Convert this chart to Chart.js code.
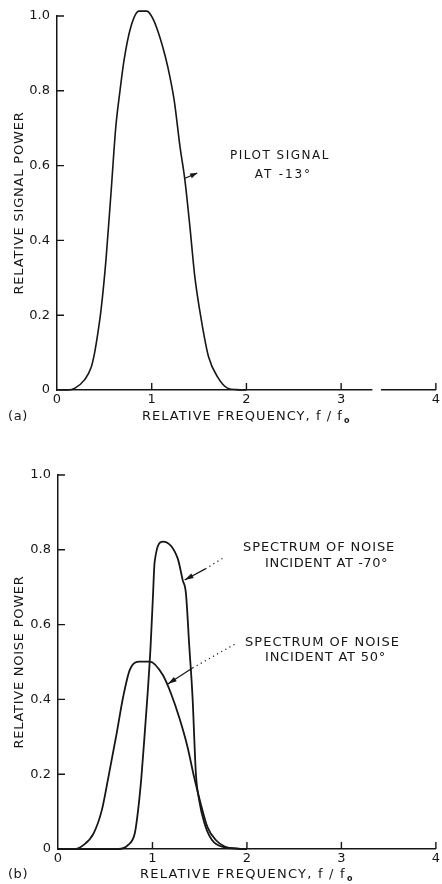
<!DOCTYPE html>
<html>
<head>
<meta charset="utf-8">
<script src="https://cdn.jsdelivr.net/npm/chart.js@4.4.0/dist/chart.umd.min.js"></script>
<style>
  body { margin: 0; background: #fff; }
  canvas { display: block; }
</style>
</head>
<body>
<canvas id="chartA" width="442" height="440"></canvas>
<canvas id="chartB" width="442" height="444"></canvas>
<script>
// (a) pilot signal at -13 deg
const pilotFreq  = [0, 0.12, 0.19, 0.29, 0.36, 0.396, 0.43, 0.465, 0.517, 0.57, 0.621, 0.665, 0.708, 0.78, 0.865, 0.948, 1.02, 1.09, 1.142, 1.19, 1.24, 1.299, 1.351, 1.403, 1.455, 1.524, 1.60, 1.70, 1.80, 1.9, 2.0];
const pilotPower = [0, 0, 0.005, 0.027, 0.06, 0.098, 0.15, 0.214, 0.348, 0.526, 0.704, 0.80, 0.882, 0.971, 1.013, 1.013, 0.989, 0.94, 0.893, 0.84, 0.77, 0.65, 0.56, 0.437, 0.303, 0.187, 0.089, 0.033, 0.005, 0.001, 0];

// (b) noise incident at 50 deg (broad) and -70 deg (narrow)
const noise50Freq  = [0, 0.17, 0.272, 0.377, 0.464, 0.534, 0.621, 0.69, 0.76, 0.866, 0.97, 1.11, 1.197, 1.285, 1.37, 1.44, 1.51, 1.58, 1.67, 1.77, 1.9, 2.0];
const noise50Power = [0, 0, 0.011, 0.042, 0.104, 0.193, 0.309, 0.407, 0.479, 0.501, 0.501, 0.465, 0.415, 0.35, 0.274, 0.193, 0.122, 0.06, 0.024, 0.006, 0.001, 0];
const noise70Freq  = [0, 0.64, 0.743, 0.813, 0.848, 0.883, 0.918, 0.95, 0.98, 1.005, 1.023, 1.11, 1.267, 1.32, 1.354, 1.39, 1.424, 1.46, 1.494, 1.55, 1.63, 1.756, 1.9, 2.0];
const noise70Power = [0, 0, 0.011, 0.042, 0.104, 0.193, 0.309, 0.42, 0.541, 0.675, 0.768, 0.822, 0.777, 0.719, 0.684, 0.541, 0.407, 0.2, 0.131, 0.069, 0.024, 0.005, 0.001, 0];

const freqTicks = [0, 1, 2, 3, 4];
const powerTicks = [0, 0.2, 0.4, 0.6, 0.8, 1.0];
const powerTickLabels = ['0', '0.2', '0.4', '0.6', '0.8', '1.0'];

const ink = '#161616';
const face = '"DejaVu Sans", sans-serif';

const toPoints = (xs, ys) => xs.map((x, i) => ({ x, y: ys[i] }));

// stretch text to a given width with letter spacing
function spaced(ctx, text, cx, cy, w) {
  ctx.letterSpacing = '0px';
  const n = [...text].length;
  const raw = ctx.measureText(text).width;
  const sp = Math.max(0, (w - raw) / n);
  ctx.letterSpacing = sp + 'px';
  ctx.textAlign = 'left';
  ctx.textBaseline = 'middle';
  ctx.fillText(text, cx - w / 2, cy);
  ctx.letterSpacing = '0px';
}

function head(ctx, at, from, hl, hw) {
  const ang = Math.atan2(at[1] - from[1], at[0] - from[0]);
  ctx.beginPath();
  ctx.moveTo(at[0], at[1]);
  ctx.lineTo(at[0] - hl * Math.cos(ang) + hw * Math.sin(ang), at[1] - hl * Math.sin(ang) - hw * Math.cos(ang));
  ctx.lineTo(at[0] - hl * Math.cos(ang) - hw * Math.sin(ang), at[1] - hl * Math.sin(ang) + hw * Math.cos(ang));
  ctx.closePath();
  ctx.fill();
}

function arrow(ctx, x, y, a) {
  const tip = [x.getPixelForValue(a.tip[0]), y.getPixelForValue(a.tip[1])];
  const mid = [x.getPixelForValue(a.mid[0]), y.getPixelForValue(a.mid[1])];
  ctx.lineWidth = 1.2;
  ctx.setLineDash([]);
  ctx.beginPath();
  ctx.moveTo(mid[0], mid[1]);
  ctx.lineTo(tip[0], tip[1]);
  ctx.stroke();
  if (a.tail) {
    const tail = [x.getPixelForValue(a.tail[0]), y.getPixelForValue(a.tail[1])];
    ctx.setLineDash([1.2, 3.5]);
    ctx.beginPath();
    ctx.moveTo(mid[0], mid[1]);
    ctx.lineTo(tail[0], tail[1]);
    ctx.stroke();
    ctx.setLineDash([]);
  }
  if (a.blob) head(ctx, mid, tip, 7, 2.6);
  else head(ctx, tip, mid, 9, 2.6);
}

const decor = {
  id: 'decor',
  afterDraw(chart, args, o) {
    const { ctx, chartArea: a, scales: { x, y } } = chart;
    ctx.save();
    ctx.strokeStyle = ink;
    ctx.fillStyle = ink;
    ctx.lineWidth = 1.4;
    // inward tick marks
    ctx.beginPath();
    x.ticks.forEach(t => {
      if (t.value === 0) return;
      const px = x.getPixelForValue(t.value);
      ctx.moveTo(px, a.bottom);
      ctx.lineTo(px, a.bottom - 7);
    });
    y.ticks.forEach(t => {
      if (t.value === 0) return;
      const py = y.getPixelForValue(t.value);
      ctx.moveTo(a.left, py);
      ctx.lineTo(a.left + 7, py);
    });
    ctx.stroke();
    // break in the frequency axis
    if (o.gap) {
      const g0 = x.getPixelForValue(o.gap[0]);
      const g1 = x.getPixelForValue(o.gap[1]);
      ctx.fillStyle = '#fff';
      ctx.fillRect(g0, a.bottom - 2, g1 - g0, 4);
      ctx.fillStyle = ink;
    }
    // axis titles
    ctx.font = '13px ' + face;
    const cx = (a.left + a.right) / 2;
    const ty = a.bottom + o.titleDrop;
    spaced(ctx, 'RELATIVE FREQUENCY, f / f', cx - 4, ty, o.xTitleW - 8);
    ctx.font = 'bold 8px ' + face;
    ctx.textAlign = 'left';
    ctx.fillText('o', cx + o.xTitleW / 2 - 7, ty + 4);
    ctx.font = '13px ' + face;
    spaced(ctx, o.panel, 18, ty, 20);
    ctx.save();
    ctx.translate(20, (a.top + a.bottom) / 2);
    ctx.rotate(-Math.PI / 2);
    spaced(ctx, o.yTitle, 0, 0, o.yTitleW);
    ctx.restore();
    // notes
    ctx.font = o.noteFont + 'px ' + face;
    o.notes.forEach(n => spaced(ctx, n.text, x.getPixelForValue(n.at[0]), y.getPixelForValue(n.at[1]), n.w));
    o.arrows.forEach(ar => arrow(ctx, x, y, ar));
    ctx.restore();
  }
};

function makeChart(id, datasets, lineW, pad, xHeight, decorOpts) {
  return new Chart(document.getElementById(id), {
    type: 'line',
    data: {
      datasets: datasets.map(d => ({
        data: d,
        borderColor: ink,
        borderWidth: lineW,
        pointRadius: 0,
        fill: false,
        cubicInterpolationMode: 'monotone',
        clip: false
      }))
    },
    options: {
      responsive: false,
      animation: false,
      events: [],
      layout: { padding: pad },
      plugins: { legend: { display: false }, tooltip: { enabled: false }, decor: decorOpts },
      scales: {
        x: {
          type: 'linear',
          min: 0,
          max: 4,
          afterBuildTicks: s => { s.ticks = freqTicks.map(v => ({ value: v })); },
          afterFit: s => { s.height = xHeight; },
          grid: { display: false, drawTicks: false },
          border: { display: true, color: ink, width: 1.5 },
          ticks: { color: ink, padding: 2, font: { family: face, size: 13 }, maxRotation: 0 }
        },
        y: {
          min: 0,
          max: 1,
          afterBuildTicks: s => { s.ticks = powerTicks.map(v => ({ value: v })); },
          afterFit: s => { s.width = 57; },
          grid: { display: false, drawTicks: false },
          border: { display: true, color: ink, width: 1.5 },
          ticks: {
            color: ink,
            padding: 7,
            font: { family: face, size: 13 },
            callback: v => powerTickLabels[powerTicks.findIndex(p => Math.abs(p - v) < 1e-6)]
          }
        }
      }
    },
    plugins: [decor]
  });
}

makeChart('chartA', [toPoints(pilotFreq, pilotPower)], 1.6, { top: 16, right: 3, left: 0, bottom: 0 }, 50, {
  panel: '(a)',
  titleDrop: 27,
  xTitleW: 209,
  yTitle: 'RELATIVE SIGNAL POWER',
  yTitleW: 183,
  gap: [3.33, 3.42],
  noteFont: 12,
  notes: [
    { text: 'PILOT SIGNAL', at: [2.354, 0.626], w: 100 },
    { text: 'AT -13°', at: [2.39, 0.575], w: 57 }
  ],
  // short pointer with a blob at its outer end
  arrows: [{ tip: [1.351, 0.566], mid: [1.48, 0.58], blob: true }]
});

makeChart('chartB', [toPoints(noise70Freq, noise70Power), toPoints(noise50Freq, noise50Power)], 1.8, { top: 35, right: 2, left: 1, bottom: 0 }, 35, {
  panel: '(b)',
  titleDrop: 26,
  xTitleW: 214,
  yTitle: 'RELATIVE NOISE POWER',
  yTitleW: 173,
  noteFont: 13,
  notes: [
    { text: 'SPECTRUM OF NOISE', at: [2.764, 0.807], w: 152 },
    { text: 'INCIDENT AT -70°', at: [2.843, 0.762], w: 123 },
    { text: 'SPECTRUM OF NOISE', at: [2.80, 0.553], w: 155 },
    { text: 'INCIDENT AT 50°', at: [2.832, 0.513], w: 121 }
  ],
  arrows: [
    { tip: [1.34, 0.719], mid: [1.56, 0.749], tail: [1.76, 0.78] },
    { tip: [1.162, 0.441], mid: [1.424, 0.484], tail: [1.895, 0.551] }
  ]
});
</script>
</body>
</html>
